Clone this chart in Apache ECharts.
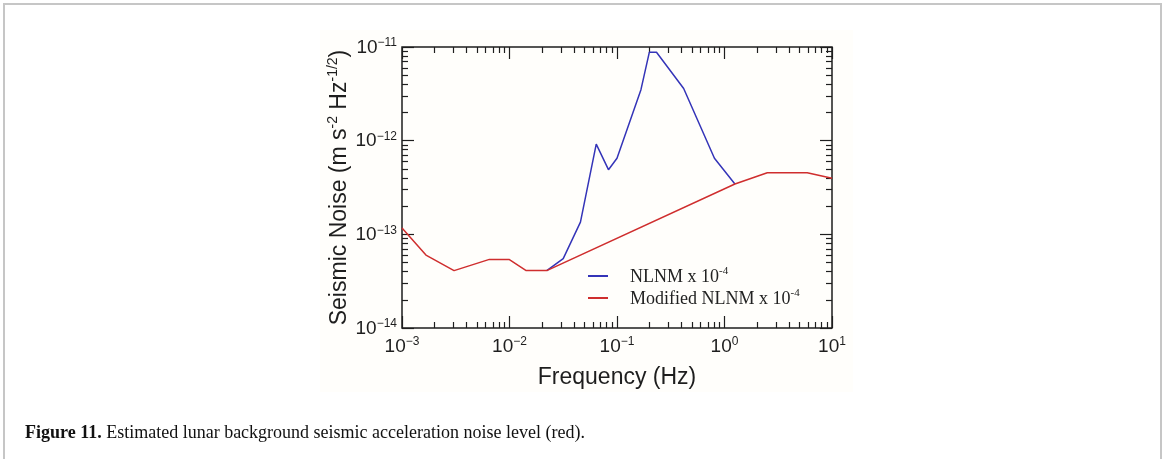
<!DOCTYPE html>
<html>
<head>
<meta charset="utf-8">
<style>
html,body{margin:0;padding:0;background:#fff;}
#chart{width:1165px;height:459px;}
</style>
<script src="https://cdn.jsdelivr.net/npm/echarts@6/dist/echarts.min.js"></script>
</head>
<body>
<div id="chart"></div>
<script>
// ---- data ----
const nlnmFreq = [0.0222, 0.0316, 0.0457, 0.0641, 0.0833, 0.1, 0.167, 0.2, 0.233, 0.417, 0.806, 1.25];
const nlnmVal  = [4.1e-14, 5.5e-14, 1.35e-13, 9.2e-13, 4.9e-13, 6.5e-13, 3.5e-12, 8.8e-12, 8.8e-12, 3.6e-12, 6.5e-13, 3.45e-13];
const modFreq  = [0.001, 0.00167, 0.00305, 0.0065, 0.0099, 0.0143, 0.0222, 1.25, 2.5, 5.88, 10];
const modVal   = [1.17e-13, 6.0e-14, 4.1e-14, 5.4e-14, 5.4e-14, 4.1e-14, 4.1e-14, 3.45e-13, 4.55e-13, 4.55e-13, 3.97e-13];
const seriesNames = ['NLNM x 10-4', 'Modified NLNM x 10-4'];
const legendLabels = ['{t|NLNM x 10}{s|-4}', '{t|Modified NLNM x 10}{s|-4}'];
const xMajorTicks = [1e-3, 1e-2, 1e-1, 1, 10];
const yMajorTicks = [1e-14, 1e-13, 1e-12, 1e-11];
const minorMultipliers = [2, 3, 4, 5, 6, 7, 8, 9];
const xTitle = 'Frequency (Hz)';
const yTitle = '{n|Seismic Noise (m s}{s|-2}{n| Hz}{s|-1/2}{n|)}';
const caption = '{b|Figure 11.} Estimated lunar background seismic acceleration noise level (red).';

function minorOf(majors){
  const out = [];
  for (let i = 0; i < majors.length - 1; i++) {
    minorMultipliers.forEach(m => out.push(majors[i] * m));
  }
  return out;
}
const xMinorTicks = minorOf(xMajorTicks);
const yMinorTicks = minorOf(yMajorTicks);

const ink = '#1e1e1e';
const sans = 'Liberation Sans';
const serif = 'Liberation Serif';

const tickRich = {
  b: {fontSize: 19, fontFamily: sans, color: ink, lineHeight: 20, verticalAlign: 'bottom'},
  s: {fontSize: 12, fontFamily: sans, color: ink, lineHeight: 8, verticalAlign: 'top'}
};
function powLabel(v){
  const e = Math.round(Math.log10(v));
  return '{b|10}{s|' + (e < 0 ? '\u2212' + (-e) : e) + '}';
}

function makeAxis(kind, pos, min, max, ticks, len, labels, extra){
  const ax = {
    type: 'log', position: pos, min: min, max: max, gridIndex: 0,
    axisLine: {show: false},
    axisTick: {show: true, inside: true, length: len, customValues: ticks,
      lineStyle: {color: ink, width: 1.2}},
    axisLabel: labels ? Object.assign({show: true, customValues: ticks, formatter: powLabel, rich: tickRich}, labels)
                      : {show: false},
    splitLine: {show: false},
    minorTick: {show: false}
  };
  return Object.assign(ax, extra || {});
}

const chart = echarts.init(document.getElementById('chart'), null, {renderer: 'canvas'});
const option = {
  backgroundColor: '#ffffff',
  animation: false,
  graphic: [
    {type: 'rect', z: -10, shape: {x: 4, y: 4, width: 1157, height: 520},
      style: {fill: '#ffffff', stroke: '#c6c6c6', lineWidth: 2}},
    {type: 'rect', z: -9, shape: {x: 320, y: 30, width: 533, height: 362},
      style: {fill: '#fffefb', stroke: null}}
  ],
  title: {
    text: caption, left: 20, top: 419,
    textStyle: {fontFamily: serif, fontSize: 18, color: '#111', fontWeight: 'normal',
      rich: {b: {fontFamily: serif, fontSize: 18, fontWeight: 'bold', color: '#111'}}}
  },
  grid: {left: 402, top: 47, right: 333, bottom: 131, show: true,
    borderColor: ink, borderWidth: 1.5, backgroundColor: 'transparent'},
  legend: {
    orient: 'vertical', left: 583, top: 261, itemWidth: 20, itemHeight: 2, itemGap: 2,
    icon: 'rect',
    data: seriesNames,
    formatter: name => legendLabels[seriesNames.indexOf(name)],
    textStyle: {padding: [0, 0, 0, 17],
      rich: {
        t: {fontFamily: serif, fontSize: 18, color: '#222', lineHeight: 20, verticalAlign: 'bottom'},
        s: {fontFamily: serif, fontSize: 11, color: '#222', lineHeight: 8, verticalAlign: 'top'}
      }}
  },
  xAxis: [
    makeAxis('x', 'bottom', 1e-3, 10, xMajorTicks, 12, {margin: 8},
      {name: xTitle, nameLocation: 'middle', nameGap: 38,
       nameTextStyle: {fontFamily: sans, fontSize: 23, color: ink}}),
    makeAxis('x', 'bottom', 1e-3, 10, xMinorTicks, 6, null),
    makeAxis('x', 'top', 1e-3, 10, xMajorTicks, 12, null),
    makeAxis('x', 'top', 1e-3, 10, xMinorTicks, 6, null)
  ],
  yAxis: [
    makeAxis('y', 'left', 1e-14, 1e-11, yMajorTicks, 12, {margin: 5},
      {name: yTitle, nameLocation: 'middle', nameGap: 51, nameRotate: 90,
       nameTextStyle: {rich: {
         n: {fontFamily: sans, fontSize: 23, color: ink, lineHeight: 25, verticalAlign: 'bottom'},
         s: {fontFamily: sans, fontSize: 14, color: ink, lineHeight: 10, verticalAlign: 'top'}
       }}}),
    makeAxis('y', 'left', 1e-14, 1e-11, yMinorTicks, 6, null),
    makeAxis('y', 'right', 1e-14, 1e-11, yMajorTicks, 12, null),
    makeAxis('y', 'right', 1e-14, 1e-11, yMinorTicks, 6, null)
  ],
  series: [
    {name: seriesNames[0], type: 'line', xAxisIndex: 0, yAxisIndex: 0, symbol: 'none',
      data: nlnmFreq.map((f, i) => [f, nlnmVal[i]]),
      lineStyle: {color: '#3434b8', width: 1.5}, itemStyle: {color: '#3434b8'}, z: 3},
    {name: seriesNames[1], type: 'line', xAxisIndex: 0, yAxisIndex: 0, symbol: 'none',
      data: modFreq.map((f, i) => [f, modVal[i]]),
      lineStyle: {color: '#cf2e2e', width: 1.5}, itemStyle: {color: '#cf2e2e'}, z: 4}
  ]
};
chart.setOption(option);
</script>
</body>
</html>
